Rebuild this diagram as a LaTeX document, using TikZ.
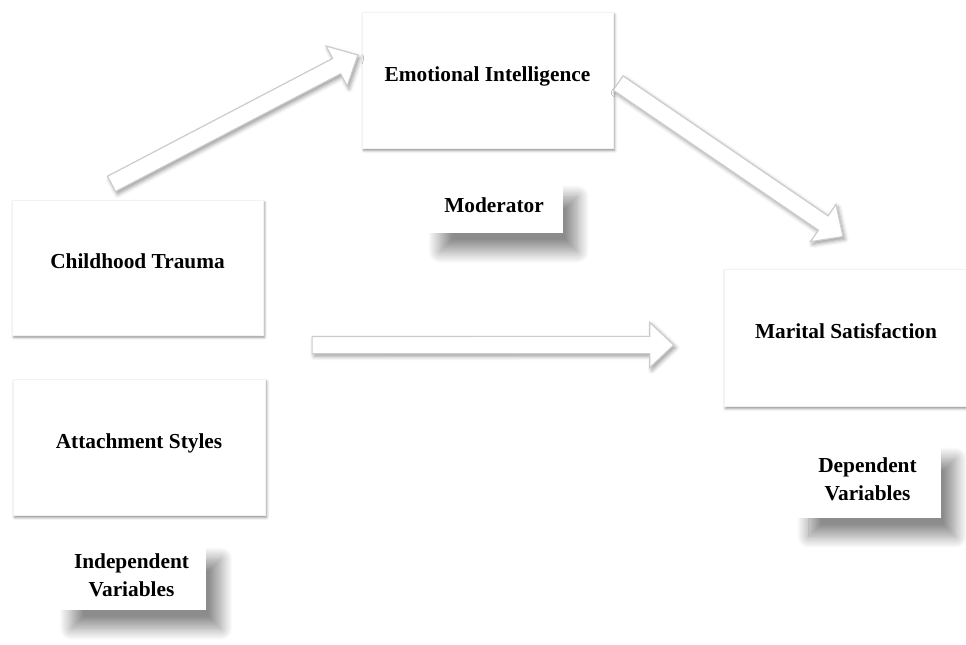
\documentclass[tikz,border=0pt]{standalone}
\usepackage{fontspec}
\setmainfont{Liberation Serif}
\usetikzlibrary{arrows.meta}
\usetikzlibrary{shadows.blur}
\usetikzlibrary{calc}

\tikzset{
  varbox/.style={fill=white, draw=black!5, inner sep=0.75pt, align=center, text depth=9.5pt,
    font=\fontsize{16}{20}\selectfont\bfseries,
    blur shadow={shadow xshift=1.2pt, shadow yshift=-1.8pt, shadow blur radius=2pt, shadow opacity=45}},
  tagbox/.style={fill=white, inner sep=0.75pt, align=center,
    font=\fontsize{16}{21}\selectfont\bfseries,
    blur shadow={shadow xshift=11pt, shadow yshift=-14pt, shadow blur radius=9pt, shadow blur steps=20, shadow opacity=45}},
  hollow/.style={fill=white, draw=gray!40, line width=0.9pt, line join=miter,
    blur shadow={shadow xshift=1.5pt, shadow yshift=-2pt, shadow blur radius=3pt, shadow opacity=40},
    to path={($(\tikztostart)!6.5pt!90:(\tikztotarget)$)
      -- ($(\tikztotarget)!18pt!(\tikztostart)!6.5pt!-90:(\tikztostart)$)
      -- ($(\tikztotarget)!18pt!(\tikztostart)!17pt!-90:(\tikztostart)$)
      -- (\tikztotarget)
      -- ($(\tikztotarget)!18pt!(\tikztostart)!17pt!90:(\tikztostart)$)
      -- ($(\tikztotarget)!18pt!(\tikztostart)!6.5pt!90:(\tikztostart)$)
      -- ($(\tikztostart)!6.5pt!-90:(\tikztotarget)$) -- cycle}}
}

\begin{document}
\begin{tikzpicture}[x=0.75pt,y=0.75pt,yscale=-1,xscale=1]
\useasboundingbox (0,0) rectangle (966,644);

%Shape: Rectangle [id:ei]
\node (ei) [varbox, minimum width=188pt, minimum height=102pt] at (487.5,80) {Emotional Intelligence};
%Shape: Rectangle [id:ct]
\node (ct) [varbox, minimum width=188pt, minimum height=101pt] at (137.5,267.5) {Childhood Trauma};
%Shape: Rectangle [id:as]
\node (as) [varbox, minimum width=189pt, minimum height=102pt] at (139,447) {Attachment Styles};
%Shape: Rectangle [id:ms]
\node (ms) [varbox, minimum width=183pt, minimum height=103pt] at (846,337.5) {Marital Satisfaction};

% Text Node
\node (mod) [tagbox, minimum width=103pt, minimum height=41pt] at (494,205.5) {Moderator};
% Text Node
\node (iv) [tagbox, minimum width=112pt, minimum height=52pt] at (131.5,575) {Independent\\Variables};
% Text Node
\node (dv) [tagbox, minimum width=110pt, minimum height=58pt] at (867.5,479) {Dependent\\Variables};

% arrow ends
\coordinate (a1s) at ($(ct.north)+(-26,-16)$);
\coordinate (a1e) at ($(ei.west)+(-4,-25)$);
\coordinate (a2s) at ($(ei.east)+(5,3)$);
\coordinate (a2e) at ($(ms.north)+(-3,-32)$);
\coordinate (a3s) at ($(ct.south east)+(49,10)$);
\coordinate (a3e) at ($(ms.west)+(-50,7.5)$);

%Block Arrows
\draw [hollow] (a1s) to (a1e);
\draw [hollow] (a2s) to (a2e);
\draw [hollow] (a3s) to (a3e);

\end{tikzpicture}
\end{document}
